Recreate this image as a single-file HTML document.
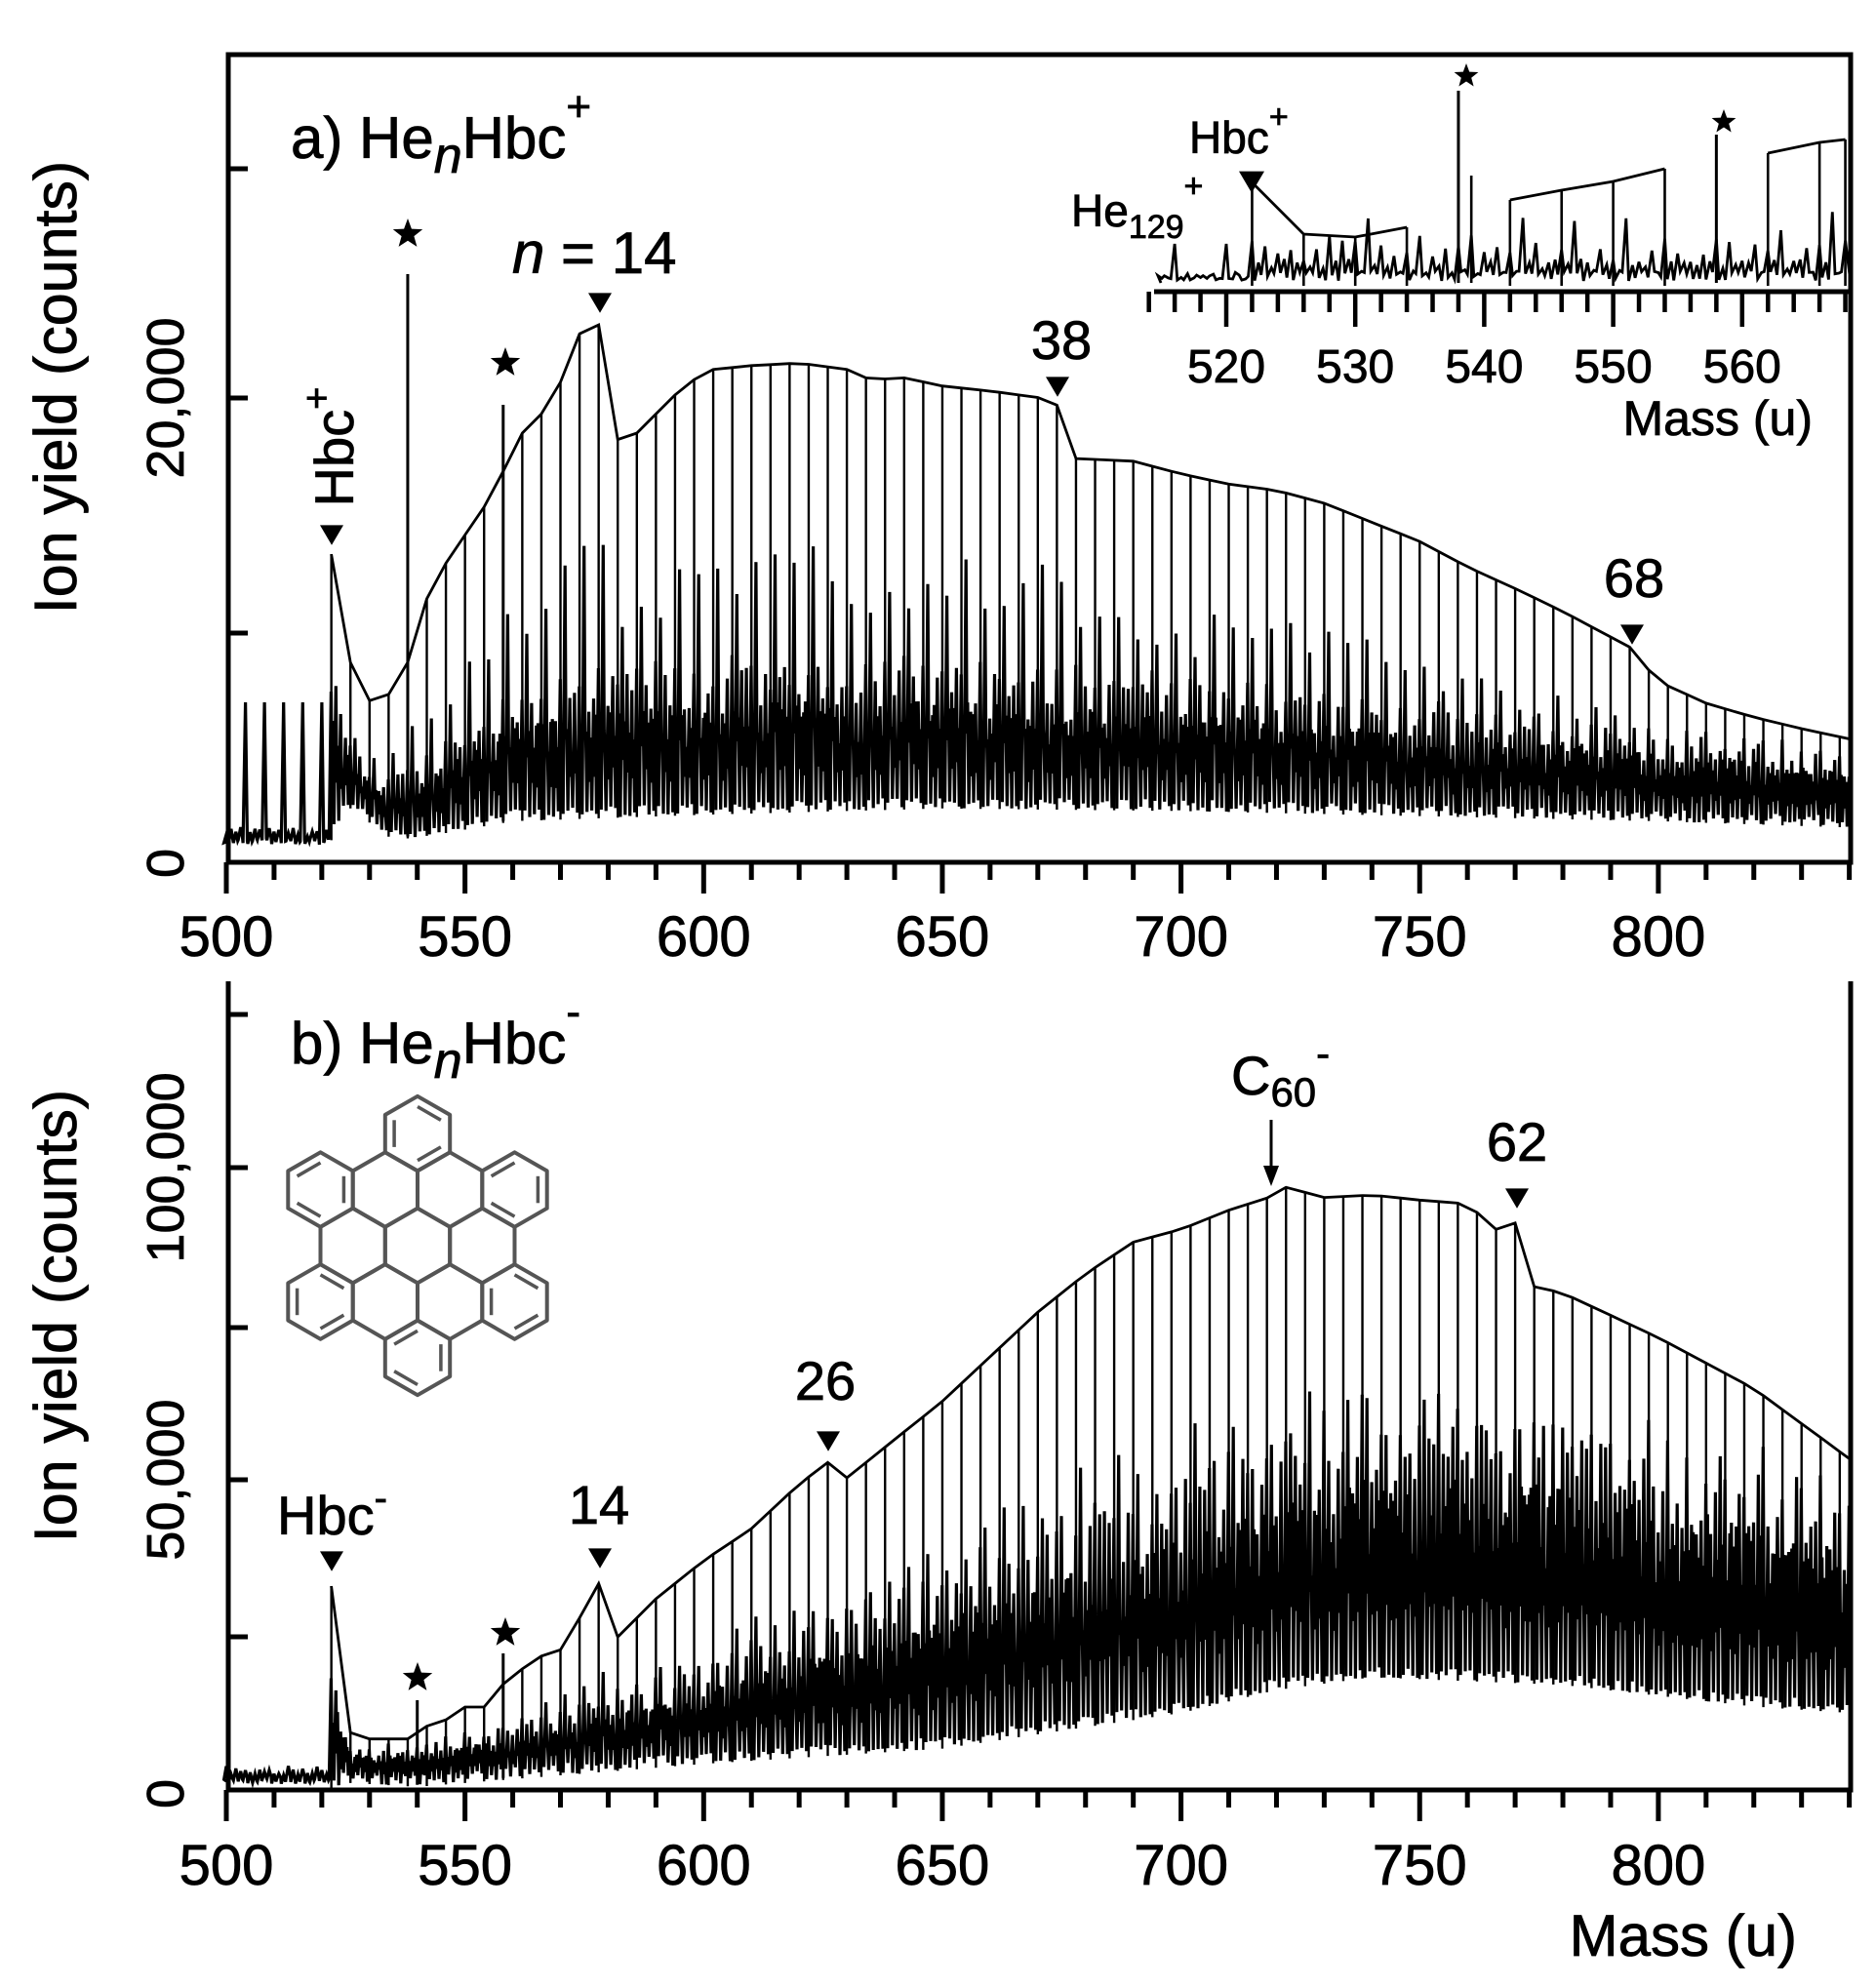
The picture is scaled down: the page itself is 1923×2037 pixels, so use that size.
<!DOCTYPE html>
<html><head><meta charset="utf-8">
<style>
html,body{margin:0;padding:0;background:#fff;}
svg{display:block;}
text{font-family:"Liberation Sans",Arial,sans-serif;fill:#000;stroke:#000;stroke-width:0.8;}
</style></head>
<body>
<svg id="s" width="1923" height="2037" viewBox="0 0 1923 2037" xmlns="http://www.w3.org/2000/svg">
<rect width="1923" height="2037" fill="#fff"/>
<g id="data"></g>
<rect x="234" y="56" width="1663" height="828" fill="none" stroke="#000" stroke-width="5"/>
<path d="M234 1006 V1835 H1897 V1006" fill="none" stroke="#000" stroke-width="5"/>
<g id="ticks"></g>
<text transform="translate(78,397) rotate(-90)" text-anchor="middle" font-size="61">Ion yield (counts)</text>
<text transform="translate(78,1349) rotate(-90)" text-anchor="middle" font-size="61">Ion yield (counts)</text>
<text transform="translate(188,885) rotate(-90)" text-anchor="middle" font-size="54">0</text>
<text transform="translate(188,408) rotate(-90)" text-anchor="middle" font-size="54">20,000</text>
<text transform="translate(188,1839) rotate(-90)" text-anchor="middle" font-size="54">0</text>
<text transform="translate(188,1517) rotate(-90)" text-anchor="middle" font-size="54">50,000</text>
<text transform="translate(188,1197) rotate(-90)" text-anchor="middle" font-size="54">100,000</text>
<g id="xl" font-size="58" text-anchor="middle"></g>
<text x="1842" y="2005" text-anchor="end" font-size="60">Mass (u)</text>
<text x="298" y="162" font-size="60">a) He<tspan font-style="italic" dy="15" font-size="52">n</tspan><tspan dy="-15">Hbc</tspan><tspan dy="-38" font-size="44">+</tspan></text>
<text x="525" y="280" font-size="60"><tspan font-style="italic">n</tspan> = 14</text>
<text x="1088" y="368" font-size="56" text-anchor="middle">38</text>
<text x="1675" y="612" font-size="56" text-anchor="middle">68</text>
<text transform="translate(362,458) rotate(-90)" font-size="56" text-anchor="middle">Hbc<tspan dy="-24" font-size="40">+</tspan></text>
<text x="1219" y="157" font-size="46">Hbc<tspan dy="-26" font-size="34">+</tspan></text>
<text x="1098" y="232" font-size="46">He<tspan dy="12" font-size="34">129</tspan><tspan dy="-42" font-size="34">+</tspan></text>
<g id="il" font-size="48" text-anchor="middle"></g>
<text x="1858" y="446" text-anchor="end" font-size="50">Mass (u)</text>
<text x="298" y="1090" font-size="60">b) He<tspan font-style="italic" dy="15" font-size="52">n</tspan><tspan dy="-15">Hbc</tspan><tspan dy="-38" font-size="44">-</tspan></text>
<text x="1262" y="1122" font-size="56">C<tspan dy="12" font-size="42">60</tspan><tspan dy="-40" font-size="42">-</tspan></text>
<path d="M1303 1148 V1205" stroke="#000" stroke-width="3"/>
<path d="M1295 1195 L1303 1216 L1311 1195 Z" fill="#000"/>
<text x="1555" y="1190" font-size="56" text-anchor="middle">62</text>
<text x="846" y="1435" font-size="56" text-anchor="middle">26</text>
<text x="614" y="1562" font-size="56" text-anchor="middle">14</text>
<text x="284" y="1573" font-size="56">Hbc<tspan dy="-24" font-size="40">-</tspan></text>
<g id="mol" fill="none" stroke="#555" stroke-width="4" stroke-linejoin="round"></g>
<g id="marks" fill="#000"></g>
</svg>
<script>
(function(){
var NS="http://www.w3.org/2000/svg";
var S=1.306;
function X(m){return 232+(m-500)*4.893;}
function XI(m){return 1257+(m-520)*13.22;}
function itp(a,m){ if(m<=a[0][0])return a[0][1]; for(var i=1;i<a.length;i++){ if(m<=a[i][0]){var t=(m-a[i-1][0])/(a[i][0]-a[i-1][0]);return a[i-1][1]+t*(a[i][1]-a[i-1][1]);}} return a[a.length-1][1];}
var seed=12345; function rnd(){seed=(seed*1103515245+12345)%2147483648; return seed/2147483648;}
function el(tag,attrs,parent){var e=document.createElementNS(NS,tag);for(var k in attrs)e.setAttribute(k,attrs[k]);(parent||document.getElementById('data')).appendChild(e);return e;}
function sc(a){return a.map(function(p){return [p[0],p[1]*S];});}

function panel(E,D,B,pre,preTop,baseY,stars){
  var d="M"+X(500)+" "+baseY;
  for(var k=500;k<=840;k++){
    var yB=itp(B,k), yD=itp(D,k), yE=itp(E,k);
    if(k<522){
      var bl=baseY+ (rnd()-0.5)*6;
      d+=" L"+X(k-0.5).toFixed(1)+" "+bl.toFixed(1);
      var h=(pre.indexOf(k)>=0)?preTop:bl-6-rnd()*8;
      d+=" L"+X(k).toFixed(1)+" "+h.toFixed(1)+" L"+X(k+0.4).toFixed(1)+" "+(bl-2).toFixed(1);
      continue;
    }
    var r=(k-522)%4;
    var y;
    if(r==0){ y=yD-(yB-yD)*0.3*rnd(); }
    else if(r==1){ y=yB-(yB-yE)*(0.45+0.15*rnd()); }
    else { y=yB-(yB-yD)*(0.75+0.45*rnd()); }
    var low=yB+(rnd()-0.5)*12;
    var mid=yB-(yB-yD)*(0.5+0.4*rnd());
    d+=" L"+X(k-0.45).toFixed(1)+" "+low.toFixed(1)+" L"+X(k-0.05).toFixed(1)+" "+y.toFixed(1)+" L"+X(k+0.15).toFixed(1)+" "+(low-(low-y)*0.3).toFixed(1)+" L"+X(k+0.3).toFixed(1)+" "+mid.toFixed(1);
  }
  el('path',{d:d,fill:'none',stroke:'#000','stroke-width':3.2,'stroke-linejoin':'miter'});
  var env="";
  for(var k=522;k<=838;k+=4){
    var yE=itp(E,k), yB=itp(B,k);
    env+=(env?" L":"M")+X(k).toFixed(1)+" "+yE.toFixed(1);
    el('line',{x1:X(k),x2:X(k),y1:yE,y2:yB+6,stroke:'#000','stroke-width':2.4});
  }
  env+=" L"+X(840)+" "+itp(E,840).toFixed(1);
  el('path',{d:env,fill:'none',stroke:'#000','stroke-width':2.8});
  stars.forEach(function(s){ el('line',{x1:X(s[0]),x2:X(s[0]),y1:s[1],y2:itp(B,s[0])+4,stroke:'#000','stroke-width':3}); });
}
var EA=sc([[522,435],[526,520],[530,550],[534,545],[538,520],[542,470],[546,442],[550,420],[554,398],[558,370],[562,340],[566,325],[570,300],[574,262],[578,255],[582,345],[586,340],[590,325],[594,310],[598,298],[602,290],[610,287],[620,285],[630,290],[636,300],[640,295],[650,303],[660,307],[670,312],[674,318],[678,360],[690,362],[700,372],[710,380],[720,385],[730,395],[740,410],[750,425],[760,445],[770,462],[780,480],[790,500],[794,508],[800,535],[810,552],[820,563],[830,572],[840,580]]);
var DA=sc([[522,550],[526,590],[532,620],[540,610],[550,585],[560,560],[580,548],[600,542],[650,540],[700,552],[750,568],[800,585],[840,600]]);
var BA=sc([[500,660],[522,655],[526,630],[535,655],[545,650],[560,640],[600,635],[650,630],[700,632],[750,636],[800,640],[840,645]]);
panel(EA,DA,BA,[504,508,512,516,520],720,863,[[538,281],[558,415]]);
var EB=sc([[522,1245],[526,1360],[530,1365],[538,1365],[542,1355],[546,1350],[550,1340],[554,1340],[558,1322],[562,1310],[566,1300],[570,1295],[574,1270],[578,1243],[582,1285],[590,1255],[600,1225],[610,1200],[620,1165],[626,1148],[630,1160],[640,1130],[650,1100],[660,1065],[670,1030],[680,1000],[690,975],[700,965],[710,950],[720,938],[722,932],[730,940],[740,938],[750,942],[760,945],[766,965],[770,960],[774,1010],[780,1015],[800,1050],[820,1090],[840,1145]]);
var DB=sc([[522,1320],[526,1375],[540,1375],[560,1360],[600,1320],[650,1260],[700,1190],[740,1140],[780,1148],[820,1180],[840,1195]]);
var BB=sc([[500,1400],[522,1400],[526,1395],[540,1398],[560,1392],[600,1380],[650,1368],[700,1340],[720,1322],[740,1312],[780,1318],[820,1335],[840,1340]]);
panel(EB,DB,BB,[],1826,1826,[[540,1743],[558,1695]]);

(function(){
  var base=290;
  var d="M1190 "+base;
  for(var k=515;k<=568;k+=0.5){
    var big = (k==516||k==520)?250:null;
    var y;
    if(big){y=big;}
    else if(k<520){y=base-4-rnd()*6;}
    else {
      var r=((k-522)%4+4)%4;
      var amp=(k<522)?8:(r==1?60:38)*(0.5+0.8*rnd());
      if(k%1!=0)amp*=0.5;
      y=base-amp;
    }
    d+=" L"+XI(k-0.3).toFixed(1)+" "+(base-2-rnd()*10).toFixed(1)+" L"+XI(k).toFixed(1)+" "+y.toFixed(1);
  }
  d+=" L1897 "+base;
  el('path',{d:d,fill:'none',stroke:'#000','stroke-width':2.8});
  var segs=[[[522,187],[526,240],[530,243],[534,233]],[[542,205],[546,195],[550,186],[554,173]],[[562,157],[566,146],[568,143]]];
  segs.forEach(function(sg){
    var p="";
    sg.forEach(function(q){p+=(p?" L":"M")+XI(q[0]).toFixed(1)+" "+q[1]; el('line',{x1:XI(q[0]),x2:XI(q[0]),y1:q[1],y2:base+3,stroke:'#000','stroke-width':2.6});});
    el('path',{d:p,fill:'none',stroke:'#000','stroke-width':2.8});
  });
  el('line',{x1:XI(538),x2:XI(538),y1:93,y2:base,stroke:'#000','stroke-width':3});
  el('line',{x1:XI(558),x2:XI(558),y1:138,y2:base,stroke:'#000','stroke-width':3});
  el('line',{x1:XI(539),x2:XI(539),y1:180,y2:base,stroke:'#000','stroke-width':2.6});
})();

var T=document.getElementById('ticks');
[884,1835].forEach(function(yb){
  for(var m=500;m<=840;m+=10){
    var maj=(m%50==0);
    el('line',{x1:X(m),x2:X(m),y1:yb,y2:yb+(maj?32:18),stroke:'#000','stroke-width':5},T);
  }
});
[649,408,173].forEach(function(y){el('line',{x1:234,x2:254,y1:y,y2:y,stroke:'#000','stroke-width':5},T);});
[1678,1517,1361,1197,1040].forEach(function(y){el('line',{x1:234,x2:254,y1:y,y2:y,stroke:'#000','stroke-width':5},T);});
el('line',{x1:1183,x2:1897,y1:299,y2:299,stroke:'#000','stroke-width':5},T);
for(var m=514;m<=568;m+=2){var maj=(m%10==0);el('line',{x1:XI(m),x2:XI(m),y1:299,y2:maj?335:320,stroke:'#000','stroke-width':4.5},T);}
var XL=document.getElementById('xl');
[500,550,600,650,700,750,800].forEach(function(m){
  el('text',{x:X(m),y:980},XL).textContent=m;
  el('text',{x:X(m),y:1932},XL).textContent=m;
});
var IL=document.getElementById('il');
[520,530,540,550,560].forEach(function(m){el('text',{x:XI(m),y:392},IL).textContent=m;});

var M=document.getElementById('marks');
function tri(x,y,w){el('path',{d:"M"+(x-w/2)+" "+(y-w*0.4)+" L"+(x+w/2)+" "+(y-w*0.4)+" L"+x+" "+(y+w*0.45)+" Z"},M);}
function star(x,y,r){var p="";for(var i=0;i<10;i++){var a=-Math.PI/2+i*Math.PI/5;var rr=(i%2==0)?r:r*0.42;p+=(i?" L":"M")+(x+rr*Math.cos(a)).toFixed(1)+" "+(y+rr*Math.sin(a)).toFixed(1);}el('path',{d:p+" Z"},M);}
tri(340,548,24); tri(615,310,24); tri(1084,396,24); tri(1673,650,24);
tri(1283,186,26);
tri(340,1600,24); tri(615,1597,24); tri(849,1477,24); tri(1555,1228,24);
star(418,240,16); star(518,372,16); star(1503,78,13); star(1767,125,13);
star(428,1720,16); star(518,1674,16);

var G=document.getElementById('mol');
var s=38.3, cx=428, cy=1277;
function hex(x,y){var p="";for(var i=0;i<6;i++){var a=-Math.PI/2+i*Math.PI/3;p+=(i?" L":"M")+(x+s*Math.cos(a)).toFixed(1)+" "+(y+s*Math.sin(a)).toFixed(1);}el('path',{d:p+" Z"},G);}
hex(cx,cy);
for(var i=0;i<6;i++){var a=i*Math.PI/3; hex(cx+s*Math.sqrt(3)*Math.cos(a),cy+s*Math.sqrt(3)*Math.sin(a));}
for(var i=0;i<6;i++){var a=Math.PI/6+i*Math.PI/3; var ox=cx+3*s*Math.cos(a), oy=cy+3*s*Math.sin(a); hex(ox,oy);
  for(var j=0;j<3;j++){var b=-Math.PI/2+(2*j+ (i%2))*Math.PI/3; var b2=b+Math.PI/3; var f=0.72;
    el('line',{x1:(ox+f*s*Math.cos(b)).toFixed(1),y1:(oy+f*s*Math.sin(b)).toFixed(1),x2:(ox+f*s*Math.cos(b2)).toFixed(1),y2:(oy+f*s*Math.sin(b2)).toFixed(1),'stroke-width':3.5},G);}
}
})();
</script>
</body></html>
